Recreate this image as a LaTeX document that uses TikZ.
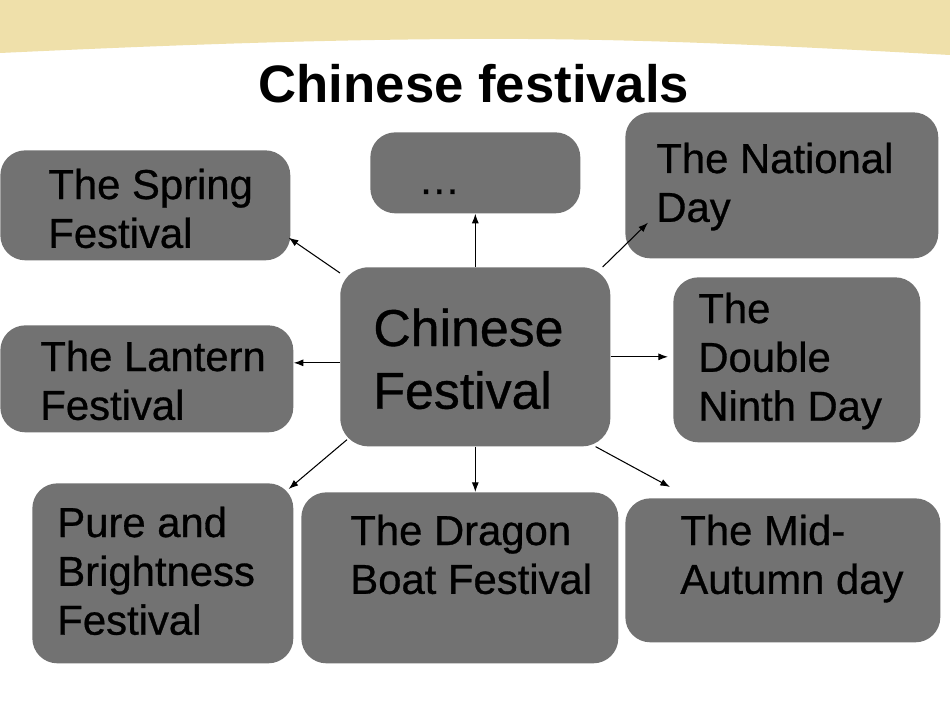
\documentclass[tikz,border=0pt]{standalone}
\usepackage{fontspec}
\setmainfont{Liberation Sans}
\newfontfamily\heavyfont[FakeBold=0.7]{Liberation Sans}
\usetikzlibrary{arrows.meta,calc}
\definecolor{boxgray}{RGB}{114,114,114}
\definecolor{band}{RGB}{239,224,170}
\newcommand\mylines[1]{\begin{tabular}[t]{@{}l@{}}#1\end{tabular}}
\tikzset{
  box/.style={fill=boxgray, draw=none, rounded corners=0.5cm, anchor=north west, inner sep=0pt},
  lbl/.style={anchor=base west, inner sep=0pt, font=\heavyfont\fontsize{23.8}{27.8}\selectfont},
  biglbl/.style={anchor=base west, inner sep=0pt, font=\heavyfont\fontsize{29.5}{35.7}\selectfont},
  arr/.style={-{Latex[length=5.5pt,width=4pt]}, line width=0.6pt, black}
}
\begin{document}
\begin{tikzpicture}[x=0.02cm, y=-0.02cm]
\useasboundingbox (0,0) rectangle (950,713);
\fill[white] (0,0) rectangle (950,713);
% top band
\fill[band] (0,0) -- (950,0) -- (950,55) .. controls (750,44) and (620,38) .. (460,39)
  .. controls (300,40) and (150,46) .. (0,53) -- cycle;
% title
\node[anchor=base, inner sep=0pt, font=\bfseries\fontsize{30}{36}\selectfont] (title) at (474,103) {Chinese festivals};
% boxes
\node[box, minimum width=5.8cm, minimum height=2.2cm] (sp) at (0,150) {};
\node[box, minimum width=4.2cm, minimum height=1.62cm] (dots) at (370,132) {};
\node[box, minimum width=6.26cm, minimum height=2.92cm] (nat) at (625,112) {};
\node[box, minimum width=5.4cm, minimum height=3.58cm, rounded corners=0.56cm] (c) at (340,267) {};
\node[box, minimum width=4.94cm, minimum height=3.3cm] (dn) at (673,277) {};
\node[box, minimum width=5.86cm, minimum height=2.14cm] (lan) at (0,325) {};
\node[box, minimum width=5.22cm, minimum height=3.6cm] (pure) at (32,483) {};
\node[box, minimum width=6.34cm, minimum height=3.42cm] (drag) at (301,492) {};
\node[box, minimum width=6.3cm, minimum height=2.88cm] (mid) at (625,498) {};
% texts
\node[lbl] (tsp) at (48,199) {\mylines{The Spring\\Festival}};
\node[lbl] (tdots) at (418,194) {…};
\node[lbl] (tnat) at (656,173) {\mylines{The National\\Day}};
\node[biglbl] (tc) at (373,346) {\mylines{Chinese\\Festival}};
\node[lbl] (tdn) at (698,323) {\mylines{The\\Double\\Ninth Day}};
\node[lbl] (tlan) at (40,371) {\mylines{The Lantern\\Festival}};
\node[lbl] (tpure) at (57,537) {\mylines{Pure and\\Brightness\\Festival}};
\node[lbl] (tdrag) at (350,545) {\mylines{The Dragon\\Boat Festival}};
\node[lbl] (tmid) at (680,545) {\mylines{The Mid-\\Autumn day}};
% connectors
\draw[arr] ($(c.north west)+(0,6)$) -- ($(sp.south east)+(-2,-23)$);
\draw[arr] (c.north) -- (c.north |- dots.south);
\draw[arr] ($(c.north east)+(-8,0)$) -- ($(nat.south west)+(23,-36)$);
\draw[arr] ($(c.west)+(0,6)$) -- ($(lan.east |- c.west)+(0,6)$);
\draw[arr] (c.east) -- ($(dn.west |- c.east)+(-5,0)$);
\draw[arr] ($(c.south west)+(7,-7)$) -- ($(pure.north east)+(-5,6)$);
\draw[arr] (c.south) -- (c.south |- drag.north);
\draw[arr] ($(c.south east)+(-15,0)$) -- ($(mid.north west)+(45,-11)$);
\end{tikzpicture}
\end{document}
